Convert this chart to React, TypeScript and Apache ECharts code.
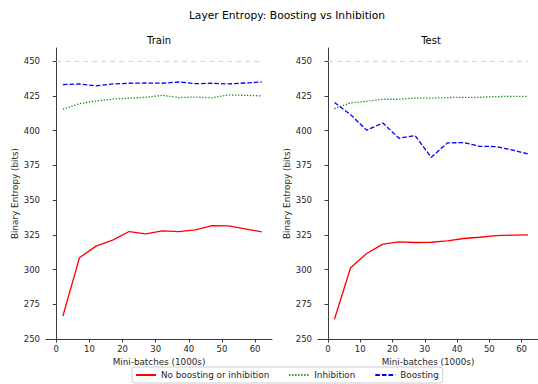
import React, { useEffect, useRef } from "react";
import * as echarts from "echarts";

const steps = [2, 7, 12, 17, 22, 27, 32, 37, 42, 47, 52, 57, 62];
const trainNone = [266.6, 308.5, 316.9, 321.2, 327.4, 325.7, 327.9, 327.4, 328.6, 331.7, 331.5, 329.3, 327.2];
const trainInhibition = [415.5, 419.5, 421.4, 422.9, 423.4, 424.1, 425.5, 423.9, 424.3, 423.7, 425.8, 425.5, 425.1];
const trainBoosting = [433.2, 433.7, 432.3, 433.7, 434.2, 434.4, 434.2, 435.1, 433.9, 434.2, 433.7, 434.4, 435.1];
const testNone = [264.2, 301.3, 311.6, 318.3, 320.0, 319.5, 319.7, 320.7, 322.4, 323.3, 324.5, 324.8, 325.0];
const testInhibition = [416.0, 420.1, 421.2, 422.7, 422.7, 423.6, 423.4, 423.9, 424.1, 424.1, 424.6, 424.8, 424.8];
const testBoosting = [420.3, 411.6, 400.4, 405.6, 394.6, 396.5, 380.9, 391.2, 391.5, 388.8, 388.6, 386.2, 383.3];
const refX = [0, 62];
const refY = [450, 450];
const xTicks = [0, 10, 20, 30, 40, 50, 60];
const yTicks = [250, 275, 300, 325, 350, 375, 400, 425, 450];
const seriesNames = ["No boosting or inhibition", "Inhibition", "Boosting"];

const FONT = "DejaVu Sans";
const TXT = "#262626";
const AX = "#3a3a3a";

const pairs = (xs: number[], ys: number[]) => xs.map((x, i) => [x, ys[i]]);

export default function App() {
  const ref = useRef<HTMLDivElement>(null);
  useEffect(() => {
    document.body.style.margin = "0";
    const chart = echarts.init(ref.current!, null, { renderer: "svg" });
    const xAxis = (gi: number) => ({
      type: "value",
      gridIndex: gi,
      min: -3.1,
      max: 65.1,
      axisLine: { show: true, lineStyle: { color: AX, width: 1 } },
      axisTick: { show: true, customValues: xTicks, length: 3.5, lineStyle: { color: AX } },
      axisLabel: { customValues: xTicks, fontSize: 8.5, fontFamily: FONT, color: TXT, margin: 5 },
      splitLine: { show: false },
      name: "Mini-batches (1000s)",
      nameLocation: "middle",
      nameGap: 18,
      nameTextStyle: { fontSize: 8.8, fontFamily: FONT, color: TXT },
    });
    const yAxis = (gi: number) => ({
      type: "value",
      gridIndex: gi,
      min: 250,
      max: 459.6,
      axisLine: { show: true, lineStyle: { color: AX, width: 1 } },
      axisTick: { show: true, customValues: yTicks, length: 3.5, lineStyle: { color: AX } },
      axisLabel: { customValues: yTicks, fontSize: 8.5, fontFamily: FONT, color: TXT, margin: 6 },
      splitLine: { show: false },
      name: "Binary Entropy (bits)",
      nameLocation: "middle",
      nameGap: 26,
      nameTextStyle: { fontSize: 8.8, fontFamily: FONT, color: TXT },
    });
    const mk = (name: string, ys: number[], gi: number, color: string, type: any) => ({
      name,
      type: "line",
      xAxisIndex: gi,
      yAxisIndex: gi,
      data: pairs(steps, ys),
      symbol: "none",
      showSymbol: false,
      lineStyle: { color, width: 1.3, type },
      itemStyle: { color },
    });
    const ref450 = (gi: number) => ({
      name: "ref",
      type: "line",
      xAxisIndex: gi,
      yAxisIndex: gi,
      data: pairs(refX, refY),
      symbol: "none",
      showSymbol: false,
      silent: true,
      lineStyle: { color: "#cfcfcf", width: 1, type: [5, 4] },
    });
    const dashed = [4.6, 2];
    const dotted = [1.2, 1.8];
    chart.setOption({
      animation: false,
      grid: [
        { left: 46, top: 48, width: 226, height: 291 },
        { left: 318, top: 48, width: 226, height: 291 },
      ],
      xAxis: [xAxis(0), xAxis(1)],
      yAxis: [yAxis(0), yAxis(1)],
      legend: {
        data: seriesNames,
        left: 132,
        top: 367,
        itemWidth: 20,
        itemHeight: 2,
        itemGap: 19,
        padding: [2.5, 4, 2.5, 3],
        itemStyle: { opacity: 0 },
        borderColor: "#cccccc",
        borderWidth: 1,
        borderRadius: 3,
        textStyle: { fontSize: 8.8, fontFamily: FONT, color: TXT, lineHeight: 11 },
      },
      graphic: [
        { type: "text", x: 287, y: 15, style: { text: "Layer Entropy: Boosting vs Inhibition", align: "center", verticalAlign: "middle", fontSize: 10.7, fontFamily: FONT, fill: "#000" } },
        { type: "text", x: 159, y: 40, style: { text: "Train", align: "center", verticalAlign: "middle", fontSize: 10, fontFamily: FONT, fill: "#000" } },
        { type: "text", x: 431, y: 40, style: { text: "Test", align: "center", verticalAlign: "middle", fontSize: 10, fontFamily: FONT, fill: "#000" } },
      ],
      series: [
        ref450(0),
        ref450(1),
        mk(seriesNames[0], trainNone, 0, "#ff0000", "solid"),
        mk(seriesNames[1], trainInhibition, 0, "#008000", dotted),
        mk(seriesNames[2], trainBoosting, 0, "#0000ff", dashed),
        mk(seriesNames[0], testNone, 1, "#ff0000", "solid"),
        mk(seriesNames[1], testInhibition, 1, "#008000", dotted),
        mk(seriesNames[2], testBoosting, 1, "#0000ff", dashed),
      ],
    });
    return () => chart.dispose();
  }, []);
  return <div ref={ref} style={{ width: 538, height: 384 }} />;
}
